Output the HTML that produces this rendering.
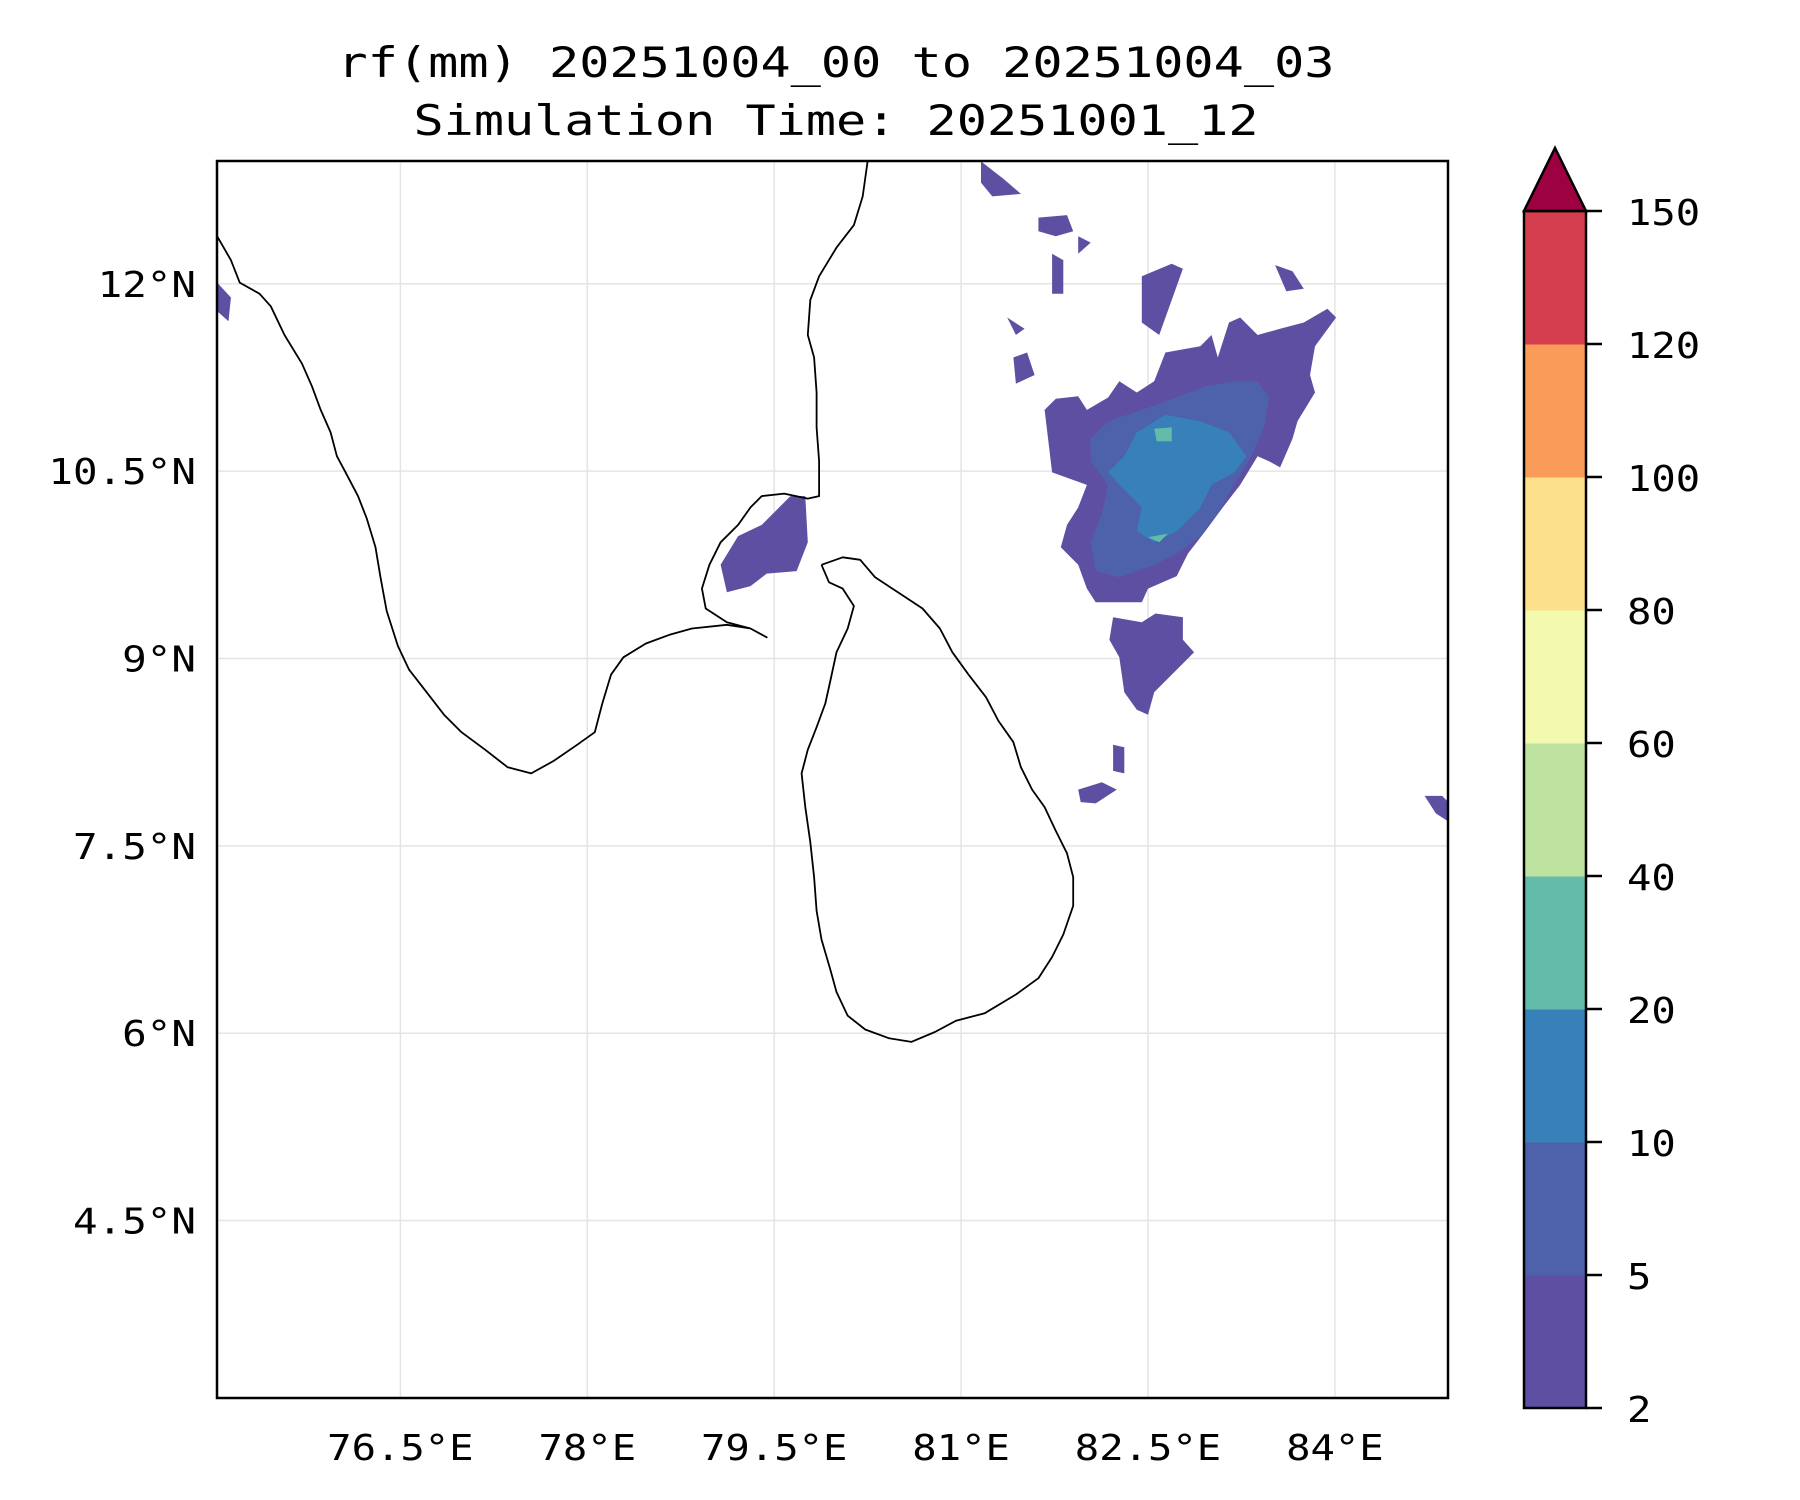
<!DOCTYPE html>
<html><head><meta charset="utf-8"><style>
html,body{margin:0;padding:0;background:#fff;}
svg{display:block;font-family:"DejaVu Sans Mono","Liberation Mono",monospace;}
</style></head><body>
<svg id="chart" width="1800" height="1500" viewBox="0 0 1800 1500" xmlns="http://www.w3.org/2000/svg">
<defs><clipPath id="axclip"><rect x="217" y="161" width="1231" height="1237"/></clipPath></defs>
<rect width="1800" height="1500" fill="#fff"/>
<text x="836" y="77" font-size="42" text-anchor="middle" textLength="997" lengthAdjust="spacingAndGlyphs">rf(mm) 20251004_00 to 20251004_03</text>
<text x="836" y="135" font-size="42" text-anchor="middle" textLength="845" lengthAdjust="spacingAndGlyphs">Simulation Time: 20251001_12</text>
<g id="grid"></g>
<g id="rain" clip-path="url(#axclip)"></g>
<g id="coast" clip-path="url(#axclip)"></g>
<rect x="217" y="161" width="1231" height="1237" fill="none" stroke="#000" stroke-width="2.5"/>
<g id="xlabels"></g>
<g id="ylabels"></g>
<g id="cbar"></g>
</svg>
<script>
const lonTicks = [76.5, 78, 79.5, 81, 82.5, 84];
const lonTickLabels = ["76.5°E","78°E","79.5°E","81°E","82.5°E","84°E"];
const latTicks = [12, 10.5, 9, 7.5, 6, 4.5];
const latTickLabels = ["12°N","10.5°N","9°N","7.5°N","6°N","4.5°N"];
const levels = [2, 5, 10, 20, 40, 60, 80, 100, 120, 150];
const levelColors = ["#5e4fa2","#4e62ab","#3880b9","#62bca9","#bee3a0","#f3f9ae","#fde08b","#f99c5a","#d53e4f"];
const extendColor = "#9e0142";

const coastIndia = [[80.29,13.16],[80.25,12.98],[80.21,12.70],[80.14,12.47],[80.00,12.29],[79.86,12.06],[79.79,11.87],[79.77,11.59],[79.82,11.41],[79.84,11.13],[79.84,10.85],[79.86,10.58],[79.86,10.30],[79.77,10.28],[79.58,10.32],[79.40,10.30],[79.31,10.21],[79.21,10.07],[79.07,9.93],[78.98,9.75],[78.92,9.56],[78.95,9.40],[79.12,9.29],[79.31,9.24],[79.44,9.17],[79.31,9.24],[79.12,9.27],[78.84,9.24],[78.66,9.19],[78.47,9.12],[78.29,9.01],[78.19,8.87],[78.12,8.64],[78.06,8.41],[77.92,8.31],[77.73,8.18],[77.55,8.08],[77.36,8.13],[77.18,8.27],[76.99,8.41],[76.85,8.55],[76.71,8.73],[76.57,8.91],[76.48,9.10],[76.39,9.38],[76.34,9.65],[76.30,9.89],[76.23,10.12],[76.16,10.30],[76.06,10.49],[75.99,10.62],[75.94,10.81],[75.86,10.99],[75.79,11.18],[75.71,11.36],[75.57,11.59],[75.46,11.82],[75.37,11.92],[75.21,12.01],[75.14,12.19],[75.03,12.38],[74.95,12.5]];
const coastSriLanka = [[79.88,9.75],[80.05,9.81],[80.19,9.79],[80.31,9.65],[80.51,9.52],[80.69,9.40],[80.83,9.24],[80.93,9.05],[81.06,8.87],[81.20,8.69],[81.30,8.50],[81.42,8.33],[81.48,8.13],[81.57,7.95],[81.67,7.81],[81.76,7.62],[81.85,7.44],[81.90,7.25],[81.90,7.02],[81.82,6.79],[81.73,6.61],[81.62,6.44],[81.44,6.31],[81.19,6.16],[80.96,6.10],[80.79,6.01],[80.60,5.93],[80.42,5.96],[80.23,6.03],[80.09,6.14],[80.00,6.33],[79.95,6.51],[79.88,6.75],[79.84,6.98],[79.82,7.25],[79.79,7.53],[79.75,7.81],[79.72,8.08],[79.77,8.27],[79.84,8.45],[79.91,8.64],[79.95,8.82],[80.00,9.05],[80.09,9.24],[80.14,9.42],[80.05,9.56],[79.94,9.61]];

const rainLevel0 = [
 [[82.55,11.22],[82.64,11.45],[82.92,11.50],[83.01,11.59],[83.06,11.41],[83.15,11.69],[83.24,11.73],[83.38,11.59],[83.56,11.64],[83.75,11.69],[83.94,11.80],[84.01,11.73],[83.84,11.50],[83.80,11.27],[83.84,11.13],[83.70,10.90],[83.66,10.76],[83.56,10.53],[83.47,10.58],[83.38,10.62],[83.24,10.39],[83.10,10.21],[82.96,10.02],[82.82,9.84],[82.73,9.66],[82.50,9.56],[82.45,9.45],[82.08,9.45],[82.01,9.56],[81.94,9.75],[81.80,9.89],[81.85,10.07],[81.94,10.21],[82.01,10.39],[81.73,10.49],[81.67,10.99],[81.76,11.08],[81.94,11.10],[82.01,10.99],[82.18,11.09],[82.27,11.22],[82.41,11.13]],
 [[82.22,9.33],[82.45,9.29],[82.56,9.36],[82.78,9.33],[82.78,9.15],[82.87,9.05],[82.69,8.87],[82.55,8.73],[82.50,8.55],[82.41,8.59],[82.31,8.73],[82.27,9.01],[82.19,9.15]],
 [[79.07,9.75],[79.21,9.98],[79.40,10.07],[79.54,10.21],[79.63,10.30],[79.75,10.30],[79.77,9.93],[79.68,9.70],[79.44,9.68],[79.31,9.58],[79.12,9.53]],
 [[81.16,12.98],[81.34,12.84],[81.48,12.72],[81.25,12.70],[81.16,12.81]],
 [[81.62,12.53],[81.85,12.55],[81.90,12.42],[81.76,12.38],[81.62,12.42]],
 [[81.73,12.24],[81.82,12.19],[81.82,11.92],[81.73,11.92]],
 [[81.94,12.38],[82.04,12.33],[81.94,12.24]],
 [[82.45,12.06],[82.69,12.16],[82.78,12.12],[82.59,11.59],[82.45,11.69]],
 [[81.42,11.41],[81.53,11.45],[81.59,11.27],[81.44,11.20]],
 [[81.37,11.73],[81.51,11.64],[81.44,11.59]],
 [[83.52,12.15],[83.66,12.10],[83.75,11.96],[83.61,11.94]],
 [[81.94,7.95],[82.13,8.01],[82.25,7.95],[82.08,7.84],[81.96,7.85]],
 [[82.22,8.31],[82.31,8.29],[82.31,8.08],[82.22,8.10]],
 [[84.72,7.90],[84.86,7.90],[84.95,7.81],[84.95,7.67],[84.81,7.76]],
 [[75.03,12.01],[75.14,11.89],[75.12,11.70],[75.03,11.78]]
];
const rainLevel1 = [
 [[82.04,10.76],[82.18,10.90],[82.45,10.99],[82.73,11.09],[82.96,11.18],[83.19,11.22],[83.38,11.22],[83.47,11.09],[83.43,10.85],[83.33,10.62],[83.19,10.39],[83.06,10.16],[82.92,9.98],[82.73,9.84],[82.55,9.75],[82.27,9.65],[82.08,9.70],[82.04,9.93],[82.13,10.16],[82.18,10.39],[82.04,10.58]]
];
const rainLevel2 = [
 [[82.41,10.81],[82.64,10.95],[82.92,10.90],[83.15,10.81],[83.29,10.62],[83.19,10.49],[83.01,10.39],[82.92,10.21],[82.73,10.02],[82.55,9.93],[82.41,10.02],[82.45,10.21],[82.31,10.35],[82.18,10.49],[82.31,10.62]]
];
const rainLevel3 = [
 [[82.55,10.84],[82.69,10.85],[82.69,10.74],[82.57,10.74]],
 [[82.50,9.97],[82.66,10.00],[82.59,9.93]]
];

const NS = "http://www.w3.org/2000/svg";
const AX = {left:217, right:1448, top:161, bottom:1398};
function xOf(lon){ return 400.4 + (lon - 76.5) * 124.6; }
function yOf(lat){ return 283.8 + (12 - lat) * 124.9; }
function mk(tag, attrs, parent){ const e = document.createElementNS(NS, tag); for (const k in attrs) e.setAttribute(k, attrs[k]); parent.appendChild(e); return e; }
function pts(poly){ return poly.map(p => xOf(p[0]).toFixed(1) + "," + yOf(p[1]).toFixed(1)).join(" "); }

const grid = document.getElementById("grid");
lonTicks.forEach(v => {
  const l = mk("line", {x1:xOf(v), x2:xOf(v), y1:AX.top, y2:AX.bottom, stroke:"#e4e4e4", "stroke-width":1.5}, grid);
  
  
});
latTicks.forEach(v => {
  const l = mk("line", {x1:AX.left, x2:AX.right, y1:yOf(v), y2:yOf(v), stroke:"#e4e4e4", "stroke-width":1.5}, grid);
  
  
});

const rain = document.getElementById("rain");
[rainLevel0, rainLevel1, rainLevel2, rainLevel3].forEach((set, li) => {
  set.forEach(poly => {
    const p = mk("polygon", {points:pts(poly), fill:levelColors[li]}, rain);
    
    
  });
});

const coast = document.getElementById("coast");
[coastIndia, coastSriLanka].forEach((c, i) => {
  const p = mk("polyline", {points:pts(i === 1 ? c.concat([c[0]]) : c), fill:"none", stroke:"#000", "stroke-width":1.8, "stroke-linejoin":"round"}, coast);
  
  
});

const xl = document.getElementById("xlabels");
lonTicks.forEach((v, i) => {
  const t = mk("text", {x:xOf(v), y:1460, "font-size":36, "text-anchor":"middle", textLength:lonTickLabels[i].length*24.4, lengthAdjust:"spacingAndGlyphs"}, xl);
  t.textContent = lonTickLabels[i];
  
  
});
const yl = document.getElementById("ylabels");
latTicks.forEach((v, i) => {
  const t = mk("text", {x:196, y:yOf(v) + 13, "font-size":36, "text-anchor":"end", textLength:latTickLabels[i].length*24.6, lengthAdjust:"spacingAndGlyphs"}, yl);
  t.textContent = latTickLabels[i];
  
  
});

const cb = document.getElementById("cbar");
const cbL = 1524, cbR = 1586, cbTop = 211, cbBot = 1408;
const seg = (cbBot - cbTop) / (levels.length - 1);
function cbY(i){ return cbBot - i * seg; }
levelColors.forEach((c, i) => {
  const r = mk("rect", {x:cbL, y:cbY(i+1), width:cbR-cbL, height:seg+0.5, fill:c}, cb);
  
  
});
const tri = mk("polygon", {points:`${cbL},${cbTop} ${(cbL+cbR)/2},148 ${cbR},${cbTop}`, fill:extendColor, stroke:"#000", "stroke-width":2.5, "stroke-linejoin":"miter"}, cb);


const frame = mk("rect", {x:cbL, y:cbTop, width:cbR-cbL, height:cbBot-cbTop, fill:"none", stroke:"#000", "stroke-width":2.5}, cb);


levels.forEach((v, i) => {
  const tk = mk("line", {x1:cbR, x2:cbR+16, y1:cbY(i), y2:cbY(i), stroke:"#000", "stroke-width":2.5}, cb);
  
  
  const t = mk("text", {x:1627, y:cbY(i) + 14, "font-size":36, textLength:String(v).length*24.4, lengthAdjust:"spacingAndGlyphs"}, cb);
  t.textContent = String(v);
  
  
});
</script>
</body></html>
